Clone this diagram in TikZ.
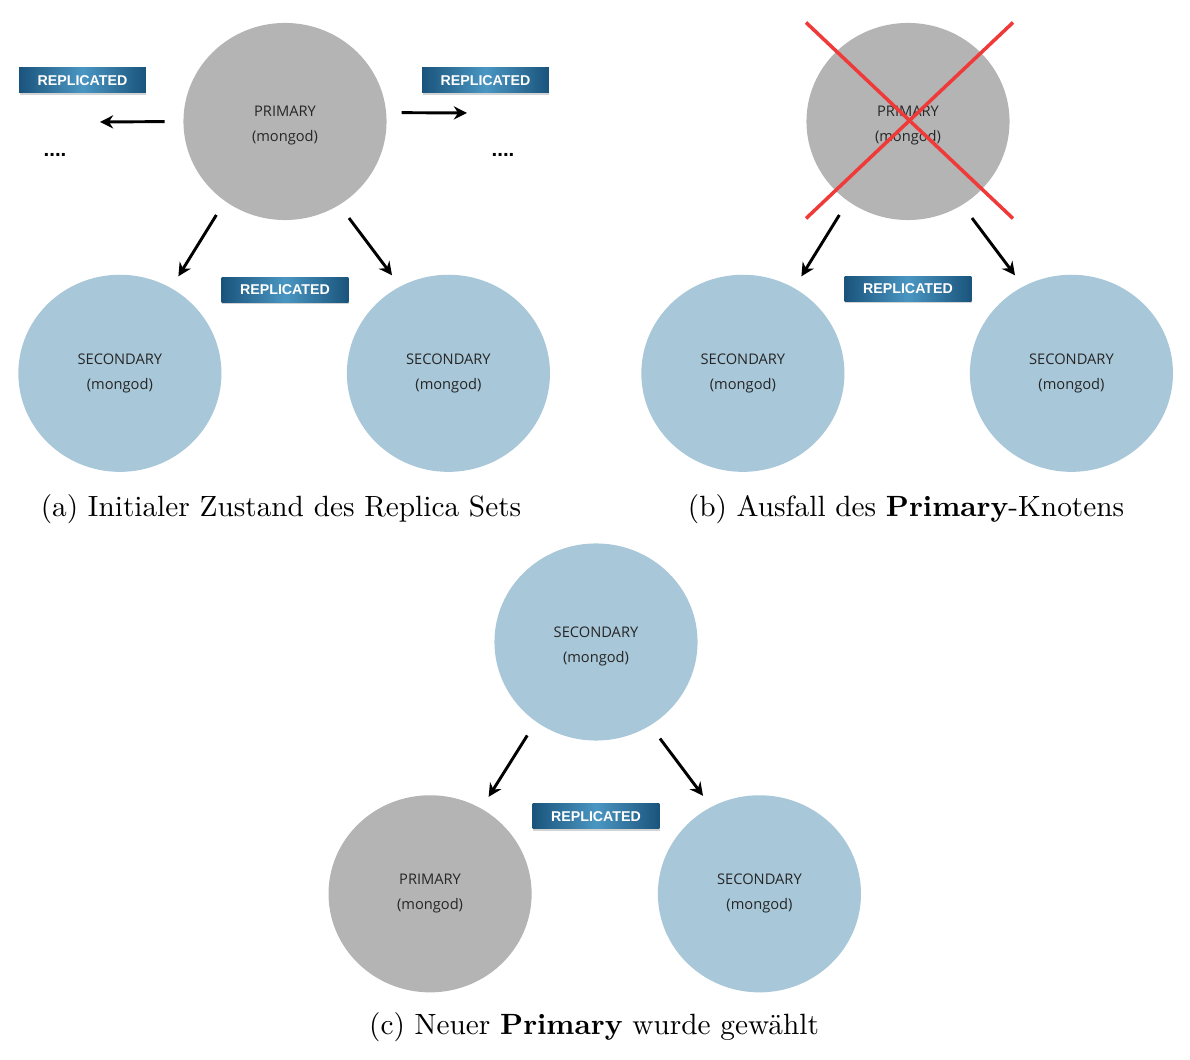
\documentclass[tikz,border=0pt]{standalone}
\usepackage{fontspec}
\newfontfamily\nodefont{Open Sans}
\newfontfamily\replfont{Liberation Sans}
\usetikzlibrary{arrows.meta}
\usetikzlibrary{positioning}
\usetikzlibrary{shadows}
\usetikzlibrary{shapes.geometric}

\definecolor{primarygray}{RGB}{180,180,180}
\definecolor{secondaryblue}{RGB}{168,199,216}
\definecolor{repldark}{RGB}{26,84,124}
\definecolor{repllight}{RGB}{74,150,194}
\definecolor{crossred}{RGB}{240,58,58}

% two-line text of a mongod node, the strut lets it sit a bit lower
\newcommand{\mongodtext}[2][6.6pt]{\rule{0pt}{#1}#2\\(mongod)}

\tikzset{
  mongod/.style={ellipse, minimum width=2.436cm, minimum height=2.364cm, inner sep=0pt,
    align=center, font=\nodefont\fontsize{5}{8.5}\selectfont, text=black!85},
  primary/.style={mongod, fill=primarygray},
  secondary/.style={mongod, fill=secondaryblue},
  replbox/.style={rectangle, minimum width=1.52cm, minimum height=0.3cm, inner sep=0pt,
    left color=repldark, right color=repldark, middle color=repllight, text=white,
    font=\replfont\bfseries\fontsize{4.85}{5}\selectfont,
    drop shadow={opacity=0.35, shadow xshift=0.2pt, shadow yshift=-0.6pt}},
  repl/.style={-{Stealth[length=4.5pt,width=4.5pt]}, line width=1pt,
    shorten <=0.19cm, shorten >=0.16cm},
  more/.style={font=\replfont\bfseries\fontsize{7}{8}\selectfont},
  cross/.style={crossred, line width=1.2pt},
}

\begin{document}
\begin{tikzpicture}[x=0.012cm, y=-0.012cm, on grid]
  \useasboundingbox (0,0) rectangle (1190,1060);

  % (a) initial state
  \node[primary] (pA) at (285,121.5) {\mongodtext{PRIMARY}};
  \node[secondary, below left=3.02cm and 1.98cm of pA] (sA1) {\mongodtext[0pt]{SECONDARY}};
  \node[secondary, below right=3.02cm and 1.96cm of pA] (sA2) {\mongodtext[0pt]{SECONDARY}};
  \node[replbox, below=2.02cm of pA] (rA) {REPLICATED};
  \node[replbox] (rAl) at (82.5,80.5) {REPLICATED};
  \node[replbox] (rAr) at (485.5,80.5) {REPLICATED};
  \node[more] (dAl) at (55,155) {....};
  \node[more] (dAr) at (503,155) {....};
  \coordinate (lA) at (100,122);
  \coordinate (rAe) at (467,113);

  \draw[repl] (pA.233) -- (sA1.59);
  \draw[repl] (pA.-57) -- (sA2.119);
  \draw[repl, shorten <=0.22cm, shorten >=0pt] (pA.west) -- (lA);
  \draw[repl, shorten <=0.18cm, shorten >=0pt] (pA.5) -- (rAe);

  \node (capA) at (281,509) {(a) Initialer Zustand des Replica Sets};

  % (b) primary goes down
  \node[primary] (pB) at (908,121.5) {\mongodtext{PRIMARY}};
  \node[secondary, below left=3.02cm and 1.98cm of pB] (sB1) {\mongodtext[0pt]{SECONDARY}};
  \node[secondary, below right=3.02cm and 1.96cm of pB] (sB2) {\mongodtext[0pt]{SECONDARY}};
  \node[replbox, below=2.01cm of pB] (rB) {REPLICATED};

  \draw[repl] (pB.233) -- (sB1.59);
  \draw[repl] (pB.-57) -- (sB2.119);

  \draw[cross] ([shift={(-102,-99)}]pB.center) -- ([shift={(105,97)}]pB.center);
  \draw[cross] ([shift={(105,-99)}]pB.center) -- ([shift={(-102,97)}]pB.center);

  \node (capB) at (906,509) {(b) Ausfall des \textbf{Primary}-Knotens};

  % (c) new primary
  \node[secondary] (sC) at (596,642) {\mongodtext{SECONDARY}};
  \node[primary, below left=3.02cm and 1.99cm of sC] (pC) {\mongodtext[0pt]{PRIMARY}};
  \node[secondary, below right=3.02cm and 1.96cm of sC] (sC2) {\mongodtext[0pt]{SECONDARY}};
  \node[replbox, below=2.09cm of sC] (rC) {REPLICATED};

  \draw[repl] (sC.233) -- (pC.59);
  \draw[repl] (sC.-57) -- (sC2.119);

  \node (capC) at (594,1027) {(c) Neuer \textbf{Primary} wurde gewählt};
\end{tikzpicture}
\end{document}
